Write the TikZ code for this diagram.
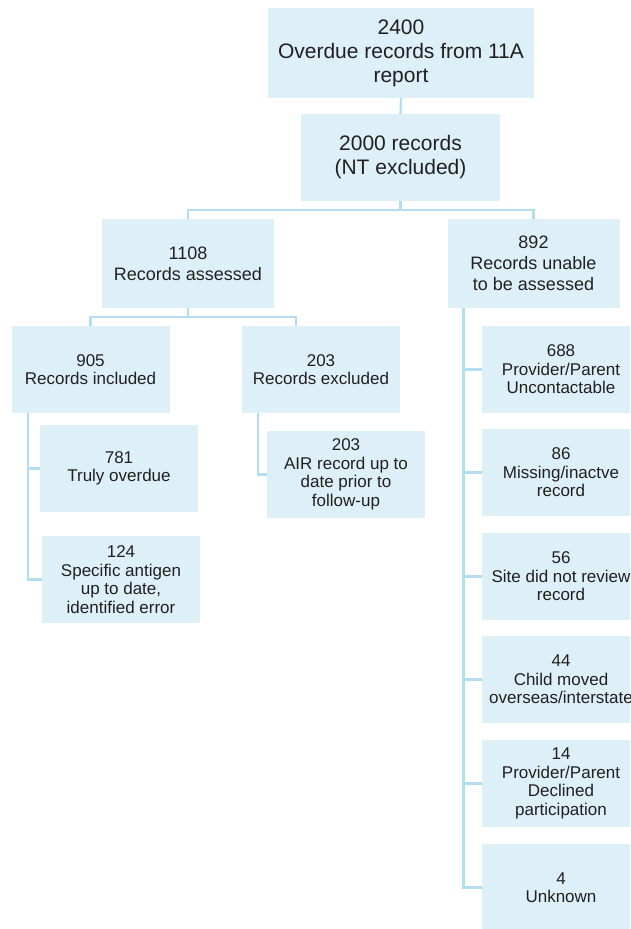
\documentclass[tikz,border=0pt]{standalone}
\usepackage{fontspec}
\setmainfont{Liberation Sans}
\usetikzlibrary{calc}
\definecolor{boxfill}{HTML}{DDF0F8}
\definecolor{linec}{HTML}{B3DDF0}
\definecolor{txt}{HTML}{231F20}
\begin{document}
\begin{tikzpicture}[x=1pt,y=-1pt,
  box/.style={fill=boxfill, inner sep=0pt, align=center, text=txt},
  big/.style={box, font=\fontsize{21}{24}\selectfont},
  mid/.style={box, font=\fontsize{18}{21}\selectfont, minimum width=172pt, minimum height=89pt},
  small/.style={box, font=\fontsize{17}{18.5}\selectfont, minimum width=158pt, minimum height=87pt},
  conn/.style={draw=linec, line width=2.2pt}]
\useasboundingbox (0,0) rectangle (630,929);
\fill[white] (0,0) rectangle (630,929);
\clip (0,0) rectangle (630,929);
% level 1-2
\node[big, minimum width=266pt, minimum height=90pt] (top) at (401,53) {2400\\Overdue records from 11A\\report};
\node[big, minimum width=199pt, minimum height=87pt] (n2000) at (400.5,157.5) {2000 records\\(NT excluded)};
\node[mid] (n1108) at (188,263.5) {1108\\Records assessed};
\node[mid] (n892) at (533.5,263.5) {892\\Records unable\\to be assessed};
% left branch
\node[small] (n905) at (90.5,369.5) {905\\Records included};
\node[small] (n203) at (321,369.5) {203\\Records excluded};
\node[small] (n781) at (119,468.5) {781\\Truly overdue};
\node[small] (n124) at (121,579.5) {124\\Specific antigen\\up to date,\\identified error};
\node[small] (nair) at (346,474.5) {203\\AIR record up to\\date prior to\\follow-up};
% right column
\node[small] (r1) at (561,369.5) {688\\Provider/Parent\\Uncontactable};
\node[small] (r2) at (561,472.5) {86\\Missing/inactve\\record};
\node[small] (r3) at (561,576.5) {56\\Site did not review\\record};
\node[small] (r4) at (561,679.5) {44\\Child moved\\overseas/interstate};
\node[small] (r5) at (561,783.5) {14\\Provider/Parent\\Declined\\participation};
\node[small] (r6) at (561,887.5) {4\\Unknown};
% connectors
\coordinate (b1) at (400.5,210);
\coordinate (b2) at (188,317);
\coordinate (e203) at ($(n203.north west)+(54,0)$);
\coordinate (sl) at (28,0);
\coordinate (sm) at (258,0);
\coordinate (sr) at (463.5,0);
\draw[conn] (top.south) -- (n2000.north);
\draw[conn] (n2000.south) -- (b1);
\draw[conn] (n1108.north) |- (b1) -| (n892.north);
\draw[conn] (n1108.south) -- (b2);
\draw[conn] (n905.north) |- (b2) -| (e203);
\draw[conn] (sl |- n905.south) |- (n124.west);
\draw[conn] (sl |- n781.west) -- (n781.west);
\draw[conn] (sm |- n203.south) |- (nair.west);
\draw[conn] (sr |- n892.south) |- (r6.west);
\foreach \r in {r1,r2,r3,r4,r5} \draw[conn] (sr |- \r.west) -- (\r.west);
\end{tikzpicture}
\end{document}
